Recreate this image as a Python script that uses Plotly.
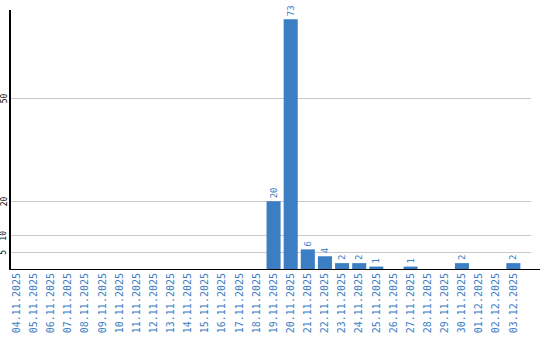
import plotly.graph_objects as go

dates = ["04.11.2025", "05.11.2025", "06.11.2025", "07.11.2025", "08.11.2025",
         "09.11.2025", "10.11.2025", "11.11.2025", "12.11.2025", "13.11.2025",
         "14.11.2025", "15.11.2025", "16.11.2025", "17.11.2025", "18.11.2025",
         "19.11.2025", "20.11.2025", "21.11.2025", "22.11.2025", "23.11.2025",
         "24.11.2025", "25.11.2025", "26.11.2025", "27.11.2025", "28.11.2025",
         "29.11.2025", "30.11.2025", "01.12.2025", "02.12.2025", "03.12.2025"]
values = [0, 0, 0, 0, 0, 0, 0, 0, 0, 0,
          0, 0, 0, 0, 0, 20, 73, 6, 4, 2,
          2, 1, 0, 1, 0, 0, 2, 0, 0, 2]
y_ticks = [5, 10, 20, 50]

blue = "#3b7ec4"
labels = [str(v) if v > 0 else "" for v in values]

fig = go.Figure(go.Bar(
    x=list(range(len(dates))), y=values, marker_color=blue, marker_line_width=0,
    text=labels, textposition="outside", textangle=-90, cliponaxis=False,
    constraintext="none",
    textfont=dict(family="DejaVu Sans Mono", size=9, color=blue),
))

fig.update_layout(
    width=540, height=340, margin=dict(l=11, r=9, t=10, b=70, autoexpand=False),
    paper_bgcolor="white", plot_bgcolor="white", showlegend=False, bargap=0.18,
    xaxis=dict(range=[-0.33, 30.03], tickmode="array", tickvals=list(range(len(dates))),
               ticktext=dates, tickangle=-90, showgrid=False, showline=False,
               ticks="", automargin=False,
               tickfont=dict(family="DejaVu Sans Mono", size=10, color=blue),
               zeroline=False),
    yaxis=dict(range=[0, 75.7], tickmode="array", tickvals=y_ticks,
               showticklabels=False,
               showgrid=True, gridcolor="#c8c8c8", gridwidth=1, showline=True,
               linecolor="black", linewidth=2, ticks="", zeroline=False,
               automargin=False),
)
for t in y_ticks:
    fig.add_annotation(xref="paper", yref="y", x=-7 / 520, y=t, text=str(t),
                       textangle=-90, showarrow=False, xanchor="center",
                       yanchor="middle",
                       font=dict(family="DejaVu Sans Mono", size=8, color="black"))
fig.add_shape(type="line", xref="paper", yref="y", x0=0, x1=529 / 520, y0=0, y1=0,
              line=dict(color="black", width=2))
fig.write_html("out.html")
